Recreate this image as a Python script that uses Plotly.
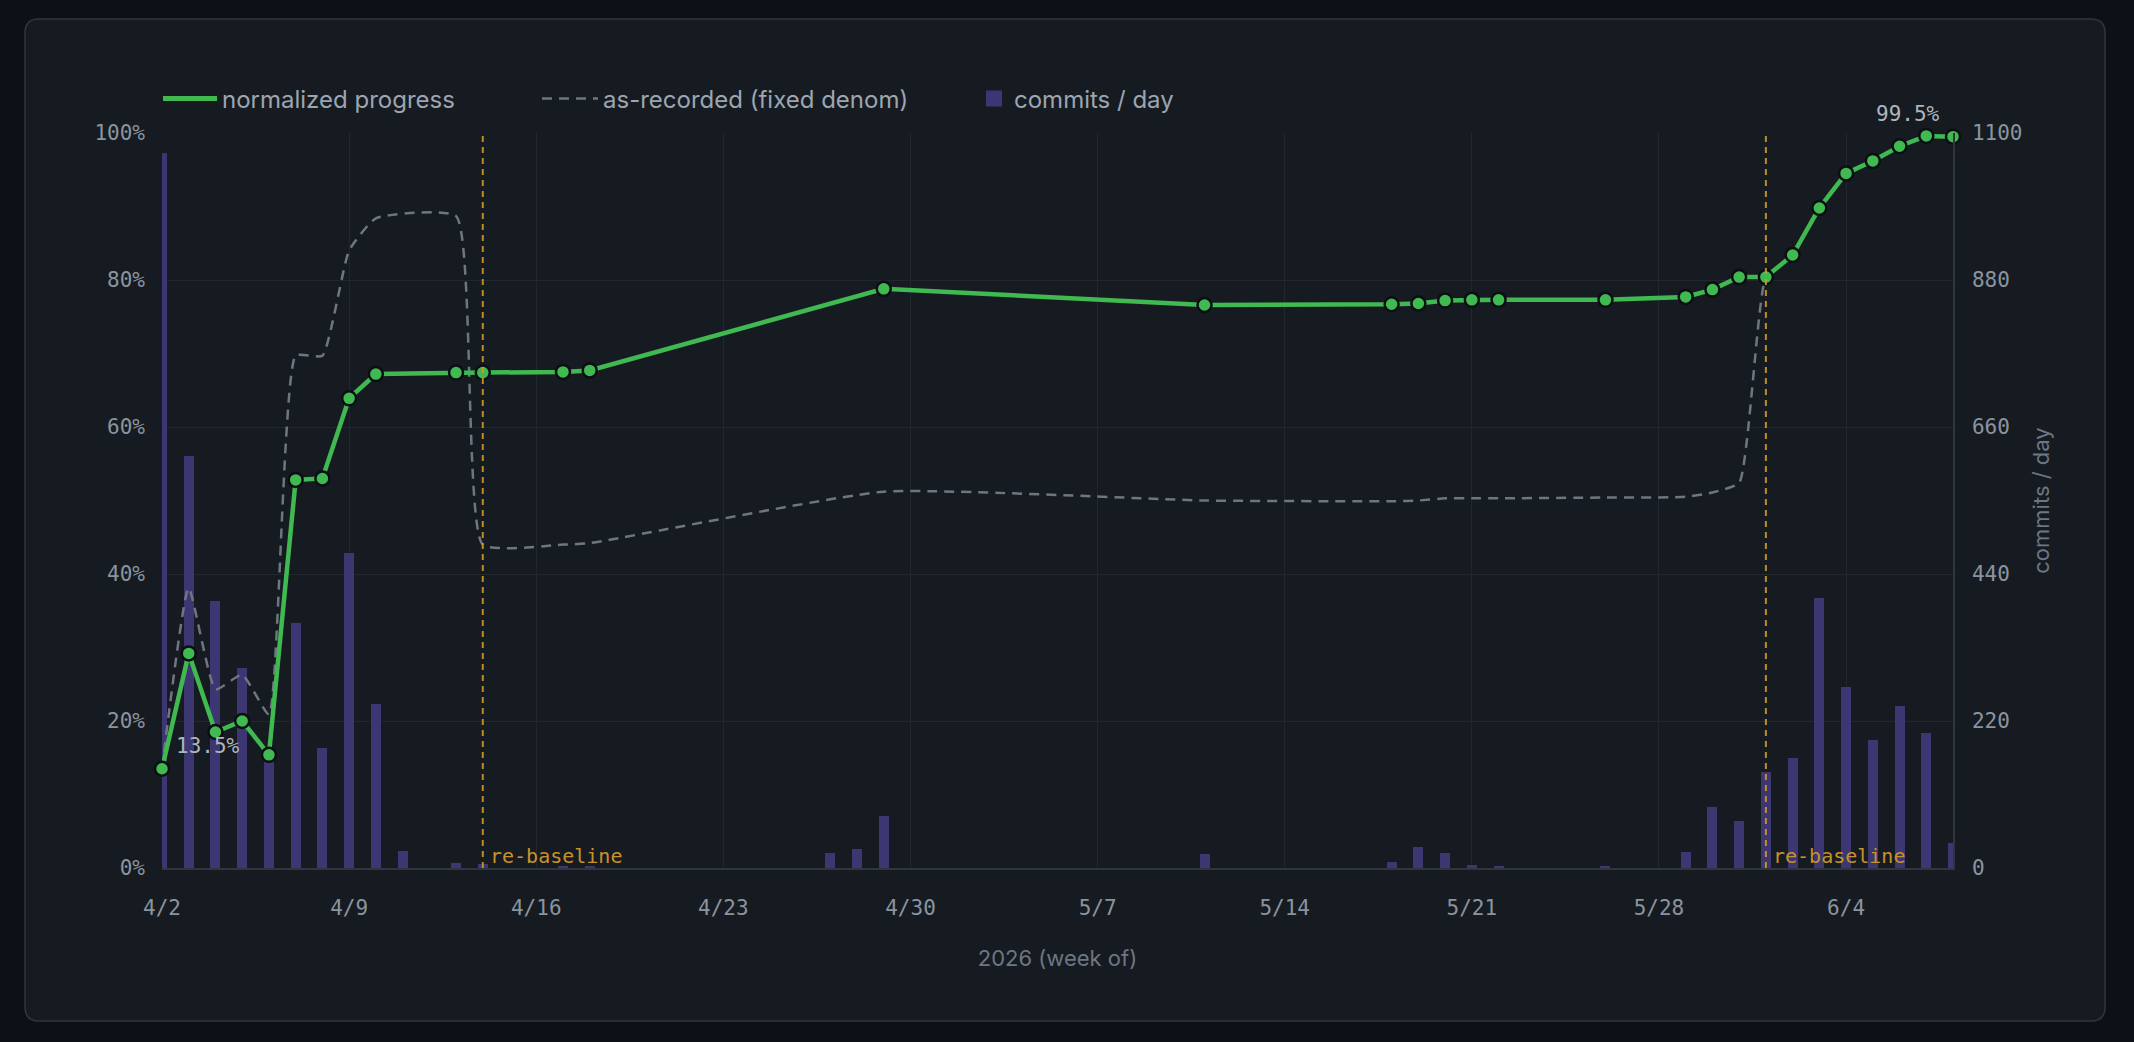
import plotly.graph_objects as go

# ---------------- data ----------------
progress_dates = [
    "2026-04-02", "2026-04-03", "2026-04-04", "2026-04-05", "2026-04-06",
    "2026-04-07", "2026-04-08", "2026-04-09", "2026-04-10", "2026-04-13",
    "2026-04-14", "2026-04-17", "2026-04-18", "2026-04-29", "2026-05-11",
    "2026-05-18", "2026-05-19", "2026-05-20", "2026-05-21", "2026-05-22",
    "2026-05-26", "2026-05-29", "2026-05-30", "2026-05-31", "2026-06-01",
    "2026-06-02", "2026-06-03", "2026-06-04", "2026-06-05", "2026-06-06",
    "2026-06-07", "2026-06-08",
]
normalized_progress = [
    13.5, 29.2, 18.5, 20.0, 15.4, 52.8, 53.0, 63.9, 67.2, 67.4,
    67.4, 67.5, 67.7, 78.8, 76.6, 76.7, 76.8, 77.2, 77.3, 77.3,
    77.3, 77.7, 78.7, 80.4, 80.4, 83.4, 89.8, 94.5, 96.2, 98.2,
    99.6, 99.5,
]
as_recorded = [
    13.5, 38.1, 24.3, 26.3, 20.9, 69.7, 69.7, 84.0, 88.4, 88.7,
    44.0, 44.0, 44.2, 51.2, 50.0, 49.9, 50.0, 50.3, 50.3, 50.3,
    50.4, 50.5, 51.1, 52.4, 80.4, 83.4, 89.8, 94.5, 96.2, 98.2,
    99.6, 99.5,
]

commit_dates = [
    "2026-04-02", "2026-04-03", "2026-04-04", "2026-04-05", "2026-04-06",
    "2026-04-07", "2026-04-08", "2026-04-09", "2026-04-10", "2026-04-11",
    "2026-04-13", "2026-04-14", "2026-04-17", "2026-04-18", "2026-04-27",
    "2026-04-28", "2026-04-29", "2026-05-11", "2026-05-18", "2026-05-19",
    "2026-05-20", "2026-05-21", "2026-05-22", "2026-05-26", "2026-05-29",
    "2026-05-30", "2026-05-31", "2026-06-01", "2026-06-02", "2026-06-03",
    "2026-06-04", "2026-06-05", "2026-06-06", "2026-06-07", "2026-06-08",
]
commits_per_day = [
    1070, 616, 400, 300, 170, 367, 179, 471, 245, 25,
    8, 6, 2, 2, 23, 29, 78, 21, 9, 32,
    23, 5, 2, 2, 24, 91, 70, 143, 164, 404,
    271, 192, 242, 202, 38,
]

rebaseline_dates = ["2026-04-14", "2026-06-01"]
x_range = ["2026-04-02", "2026-06-08"]
pct_ticks = [0, 20, 40, 60, 80, 100]
pct_ticklabels = ["0%", "20%", "40%", "60%", "80%", "100%"]
commit_ticks = [0, 220, 440, 660, 880, 1100]

# ---------------- style ----------------
OUTER_BG = "#0d1117"
CARD_BG = "#161b22"
CARD_BORDER = "#30363d"
GRID = "#22272e"
TICK_COLOR = "#8b949e"
TITLE_COLOR = "#6e7681"
LEGEND_COLOR = "#9da5b0"
GREEN = "#3fb950"
DASH_GRAY = "#6e7681"
BAR_COLOR = "#3c3773"
AMBER = "#d29922"
MONO = "DejaVu Sans Mono"
SANS = "Inter"

W, H = 2134, 1042
ML, MR, MT, MB = 162, 181, 133, 174
PW = W - ML - MR
PH = H - MT - MB


def px_x(px):
    return (px - ML) / PW


def px_y(py):
    return (H - MB - py) / PH


fig = go.Figure()

fig.add_trace(go.Bar(
    x=commit_dates, y=commits_per_day, name="commits / day",
    marker=dict(color=BAR_COLOR, line=dict(width=0)),
    width=0.374 * 86400000, yaxis="y", showlegend=False,
    hoverinfo="skip",
))
fig.add_trace(go.Scatter(
    x=progress_dates, y=as_recorded, name="as-recorded (fixed denom)",
    mode="lines", line=dict(color=DASH_GRAY, width=2.5, dash="10px,7px",
                            shape="spline", smoothing=0.45),
    yaxis="y2", legend="legend2", cliponaxis=False, hoverinfo="skip",
))
fig.add_trace(go.Scatter(
    x=progress_dates, y=normalized_progress, name="normalized progress",
    mode="lines+markers", line=dict(color=GREEN, width=4.5),
    marker=dict(color=GREEN, size=14, line=dict(color="#0b0f14", width=2.5)),
    yaxis="y2", showlegend=False, cliponaxis=False, hoverinfo="skip",
))
# legend-only entries (styled like the reference legend)
fig.add_trace(go.Scatter(
    x=[None], y=[None], name="normalized progress", mode="lines",
    line=dict(color=GREEN, width=5), yaxis="y2", legend="legend",
))
fig.add_trace(go.Scatter(
    x=[None], y=[None], name="commits / day", mode="markers",
    marker=dict(color=BAR_COLOR, symbol="square", size=20, line=dict(width=0)),
    yaxis="y2", legend="legend3",
))

# card background
x0, x1 = px_x(25), px_x(2105)
y0, y1 = px_y(1021), px_y(19)
rx, ry = 14 / PW, 14 / PH
card_path = (
    f"M{x0 + rx},{y1} L{x1 - rx},{y1} Q{x1},{y1} {x1},{y1 - ry} "
    f"L{x1},{y0 + ry} Q{x1},{y0} {x1 - rx},{y0} L{x0 + rx},{y0} "
    f"Q{x0},{y0} {x0},{y0 + ry} L{x0},{y1 - ry} Q{x0},{y1} {x0 + rx},{y1} Z"
)
shapes = [dict(type="path", xref="paper", yref="paper", path=card_path,
               fillcolor=CARD_BG, line=dict(color=CARD_BORDER, width=1.5),
               layer="below")]
annotations = []
for d in rebaseline_dates:
    shapes.append(dict(type="line", xref="x", yref="paper", x0=d, x1=d,
                       y0=0, y1=1, line=dict(color=AMBER, width=2, dash="6px,5px"),
                       opacity=0.9, layer="above"))
    annotations.append(dict(x=d, y=0, xref="x", yref="paper", text="re-baseline",
                            showarrow=False, xanchor="left", yanchor="bottom",
                            xshift=5, yshift=-2,
                            font=dict(family=MONO, size=20, color="#c8922a")))

annotations.append(dict(x=progress_dates[0], y=normalized_progress[0], xref="x", yref="y2",
                        text=f"{normalized_progress[0]}%", showarrow=False,
                        xanchor="left", yanchor="middle", xshift=12, yshift=23,
                        font=dict(family=MONO, size=21, color="#adb5bd")))
annotations.append(dict(x=progress_dates[-1], y=normalized_progress[-1], xref="x", yref="y2",
                        text=f"{normalized_progress[-1]}%", showarrow=False,
                        xanchor="right", yanchor="middle", xshift=-11, yshift=23,
                        font=dict(family=MONO, size=21, color="#adb5bd")))

tickfont = dict(family=MONO, size=21, color=TICK_COLOR)
legend_common = dict(orientation="h", yanchor="middle", xanchor="left",
                     bgcolor="rgba(0,0,0,0)", borderwidth=0,
                     font=dict(family=SANS, size=24, color=LEGEND_COLOR),
                     y=px_y(99))

fig.update_layout(
    width=W, height=H, autosize=False,
    margin=dict(l=ML, r=MR, t=MT, b=MB, pad=0),
    paper_bgcolor=OUTER_BG, plot_bgcolor=CARD_BG,
    showlegend=True, bargap=0,
    shapes=shapes, annotations=annotations,
    legend=dict(**legend_common, x=px_x(158), itemwidth=54),
    legend2=dict(**legend_common, x=px_x(537), itemwidth=56),
    legend3=dict(**legend_common, x=px_x(974), itemwidth=30),
    xaxis=dict(
        type="date", range=x_range, tick0=x_range[0], dtick=7 * 86400000,
        tickformat="%-m/%-d", showgrid=True, gridcolor=GRID, gridwidth=1,
        zeroline=False, showline=True, linecolor=CARD_BORDER, linewidth=1.5,
        ticks="", tickfont=tickfont, ticklabelstandoff=20,
        title=dict(text="2026 (week of)", font=dict(family=SANS, size=22, color=TITLE_COLOR),
                   standoff=32),
    ),
    yaxis=dict(
        side="right", range=[0, 1100], tickvals=commit_ticks,
        showgrid=True, gridcolor=GRID, gridwidth=1, zeroline=False,
        showline=True, linecolor=CARD_BORDER, linewidth=1.5,
        ticks="", tickfont=tickfont, ticklabelstandoff=13,
        title=dict(text="commits / day", font=dict(family=SANS, size=22, color=TITLE_COLOR),
                   standoff=12),
    ),
    yaxis2=dict(
        overlaying="y", side="left", range=[0, 100], tickvals=pct_ticks,
        ticktext=pct_ticklabels, showgrid=False, zeroline=False, showline=False,
        ticks="", tickfont=tickfont, ticklabelstandoff=16,
    ),
)

fig.write_html("out.html")
